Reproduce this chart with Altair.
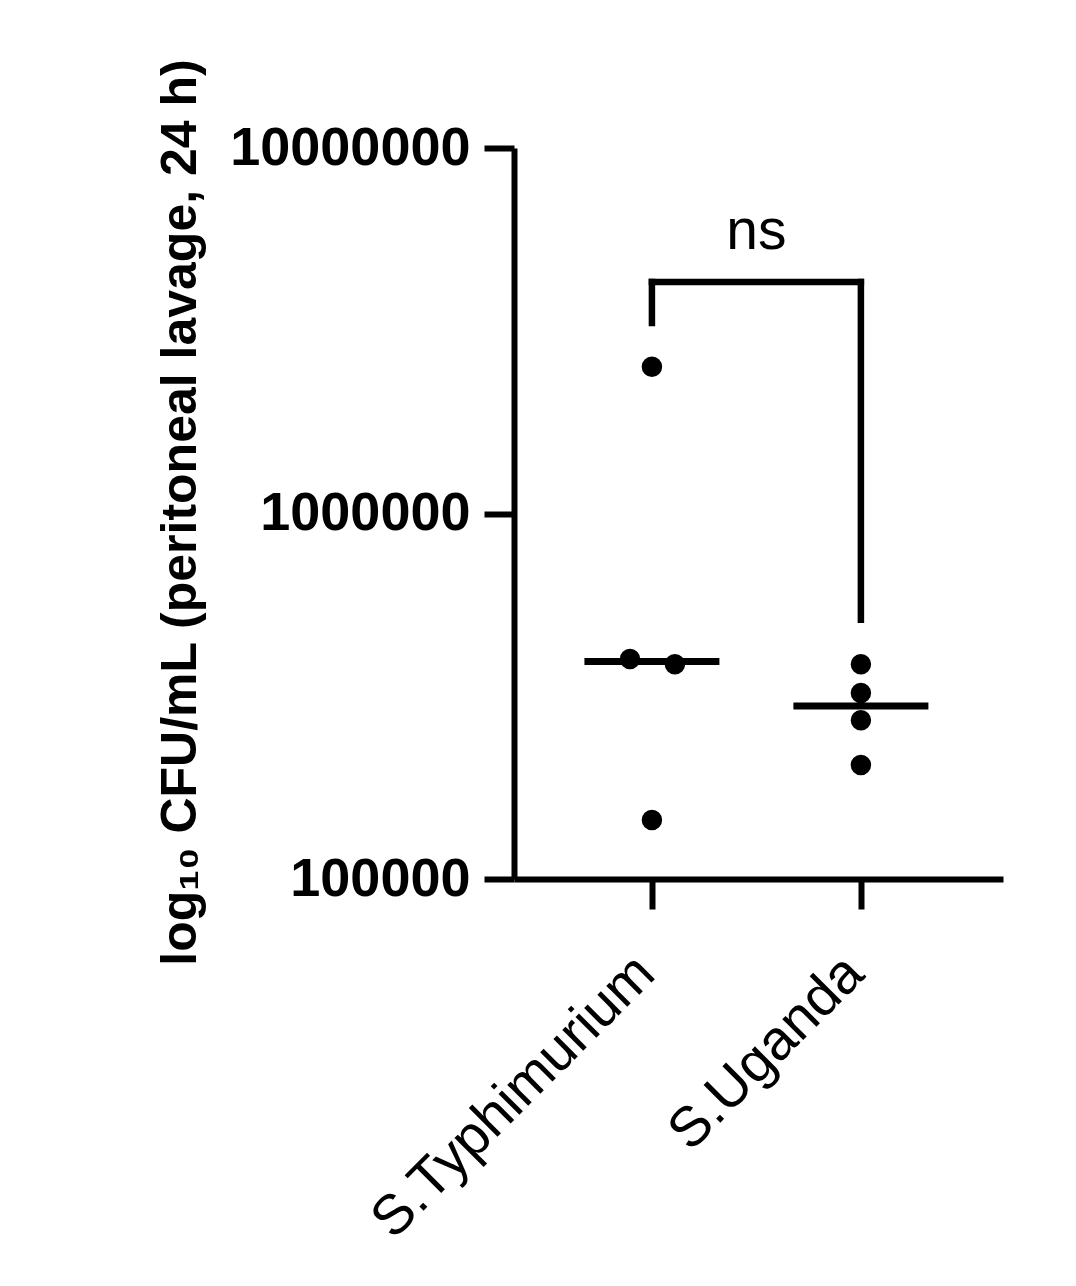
import altair as alt
import pandas as pd

# Data
groups = ["S.Typhimurium", "S.Uganda"]
typh_values = [2.52e6, 4.0e5, 3.87e5, 1.45e5]
typh_pos = [1.0, 0.895, 1.11, 1.0]
ugan_values = [3.87e5, 3.23e5, 2.72e5, 2.05e5]
ugan_pos = [2.0, 2.0, 2.0, 2.0]

# significance bracket (y levels in CFU/mL)
bracket_top = 4.3e6
bracket_left_end = 3.32e6
bracket_right_end = 5.12e5
sig_label = "ns"
sig_label_y = 5.9e6

FONT = "Liberation Sans"

pts = pd.DataFrame({
    "x": typh_pos + ugan_pos,
    "cfu": typh_values + ugan_values,
    "group": [groups[0]] * len(typh_values) + [groups[1]] * len(ugan_values),
})

medians = pd.DataFrame({
    "xc": [1.0, 2.0],
    "median": [pd.Series(typh_values).median(), pd.Series(ugan_values).median()],
})
half = 0.323
medians["x1"] = medians["xc"] - half
medians["x2"] = medians["xc"] + half

bracket = pd.DataFrame({
    "x": [1.0, 2.0, 1.0],
    "x2": [1.0, 2.0, 2.0],
    "y": [bracket_left_end, bracket_right_end, bracket_top],
    "y2": [bracket_top, bracket_top, bracket_top],
})

label_df = pd.DataFrame({"x": [1.5], "y": [sig_label_y], "t": [sig_label]})

xscale = alt.Scale(domain=[0.34, 2.68], nice=False, zero=False)
yscale = alt.Scale(type="log", domain=[1e5, 1e7], nice=False)

xaxis = alt.Axis(
    values=[1, 2],
    labelExpr="datum.value == 1 ? 'S.Typhimurium' : 'S.Uganda'",
    labelAngle=-45,
    labelAlign="right",
    labelBaseline="top",
    labelFontSize=56,
    labelFont=FONT,
    labelPadding=36,
    labelOffset=-26,
    labelLimit=0,
    tickSize=30,
    title=None,
    grid=False,
)
yaxis = alt.Axis(
    values=[1e5, 1e6, 1e7],
    format="d",
    labelFontSize=54,
    labelFont=FONT,
    labelFontWeight="bold",
    labelPadding=14,
    labelLimit=0,
    tickSize=30,
    title="log₁₀ CFU/mL (peritoneal lavage, 24 h)",
    titleFont=FONT,
    titleFontSize=50,
    titleFontWeight="bold",
    titleX=-319,
    titleY=364,
    titleAngle=270,
    titleAlign="center",
    titleBaseline="alphabetic",
    titleLimit=0,
    grid=False,
)

points = alt.Chart(pts).mark_circle(size=420, color="black", opacity=1).encode(
    x=alt.X("x:Q", scale=xscale, axis=xaxis),
    y=alt.Y("cfu:Q", scale=yscale, axis=yaxis),
)

med = alt.Chart(medians).mark_rule(color="black", strokeWidth=7).encode(
    x=alt.X("x1:Q", scale=xscale),
    x2="x2:Q",
    y=alt.Y("median:Q", scale=yscale),
)

br = alt.Chart(bracket).mark_rule(color="black", strokeWidth=6.5, strokeCap="square").encode(
    x=alt.X("x:Q", scale=xscale),
    x2="x2:Q",
    y=alt.Y("y:Q", scale=yscale),
    y2="y2:Q",
)

txt = alt.Chart(label_df).mark_text(
    font=FONT, fontSize=57, color="black", baseline="middle", align="center"
).encode(
    x=alt.X("x:Q", scale=xscale),
    y=alt.Y("y:Q", scale=yscale),
    text="t:N",
)

chart = alt.layer(points, med, br, txt).properties(
    width=489,
    height=731,
    autosize=alt.AutoSizeParams(type="none"),
    padding={"left": 506, "top": 140, "right": 60, "bottom": 400},
).configure_view(stroke=None).configure_axis(
    domainColor="black",
    domainWidth=6,
    tickColor="black",
    tickWidth=6,
    labelColor="black",
    titleColor="black",
)

chart.save("out.html", embed_options={"renderer": "svg", "actions": False})
